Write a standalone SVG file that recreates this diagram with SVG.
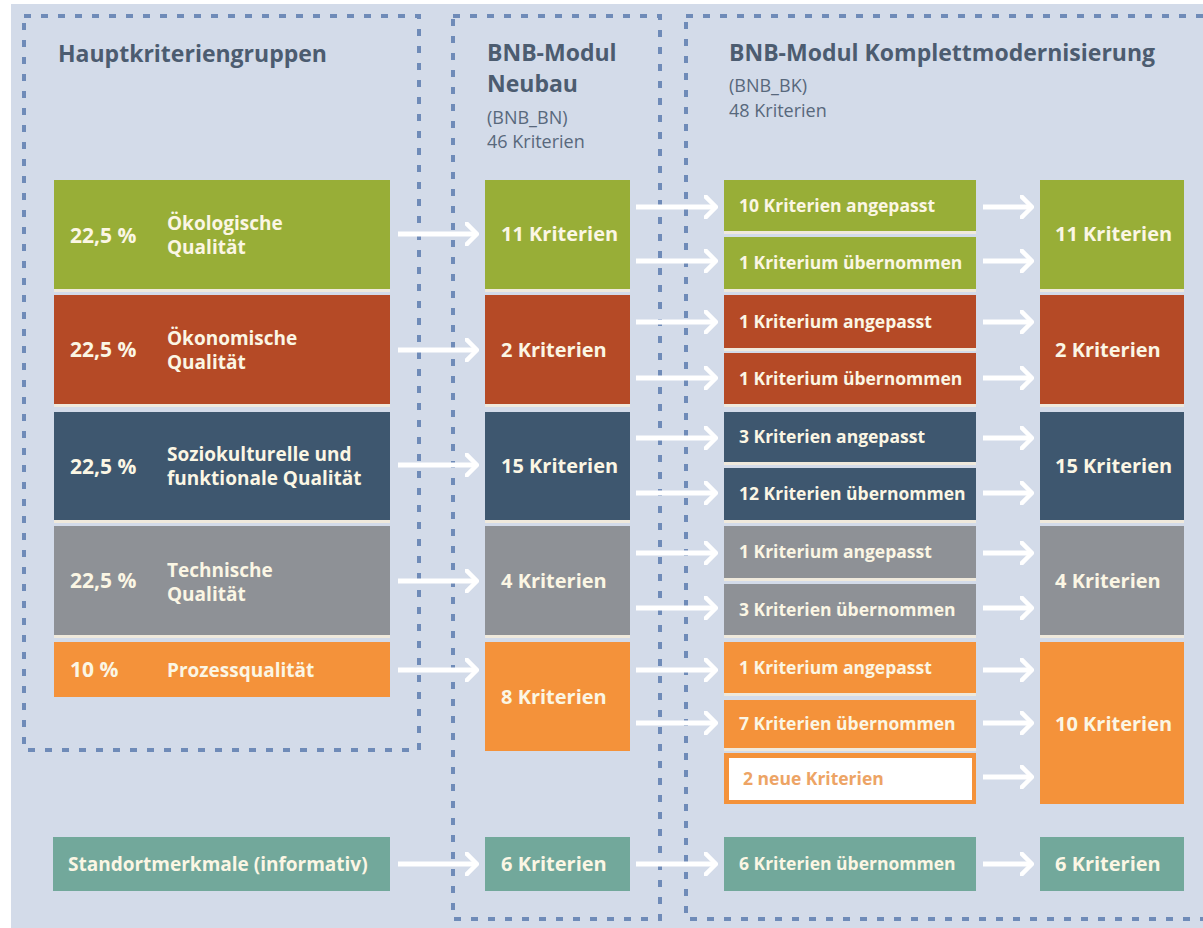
<svg xmlns="http://www.w3.org/2000/svg" width="1203" height="928" viewBox="0 0 1203 928">
<defs>
<style>
.bg{fill:#d3dbe9}
.dash{fill:none;stroke:#6f8bb8;stroke-width:4;stroke-dasharray:7 10}
.g{fill:#98ae37}.r{fill:#b54a26}.b{fill:#3e576f}.y{fill:#8e9196}.o{fill:#f4923a}.t{fill:#72a89b}
.cr{fill:#efe9dc}
.h1{font-family:"Open Sans","Liberation Sans",sans-serif;font-weight:700;font-size:23px;fill:#4c5c70}
.h2{font-family:"Open Sans","Liberation Sans",sans-serif;font-weight:400;font-size:18px;fill:#58687c}
.pc{font-family:"Open Sans","Liberation Sans",sans-serif;font-weight:700;font-size:21px;fill:#fbf6e4}
.lb{font-family:"Open Sans","Liberation Sans",sans-serif;font-weight:700;font-size:19px;fill:#fbf6e4}
.mk{font-family:"Open Sans","Liberation Sans",sans-serif;font-weight:700;font-size:20px;fill:#fbf6e4}
.sk{font-family:"Open Sans","Liberation Sans",sans-serif;font-weight:700;font-size:17.5px;fill:#fbf6e4}
.nk{font-family:"Open Sans","Liberation Sans",sans-serif;font-weight:700;font-size:17.5px;fill:#eda465}
.ar{fill:none;stroke:#ffffff;stroke-width:5}
</style>
<marker id="chev" viewBox="0 0 14 24" refX="12" refY="12" markerWidth="14" markerHeight="24" markerUnits="userSpaceOnUse" orient="auto">
<path d="M1.5,1.5 L12,12 L1.5,22.5" fill="none" stroke="#ffffff" stroke-width="4.5" stroke-linecap="round" stroke-linejoin="round"/>
</marker>
</defs>
<rect class="bg" x="11" y="4" width="1192" height="924"/>

<g id="frames">
<rect class="dash" x="24" y="16" width="395" height="734"/>
<rect class="dash" x="453" y="16" width="207" height="903"/>
<rect class="dash" x="686" y="16" width="540" height="903"/>
</g>

<g id="headers">
<text class="h1" x="58" y="62">Hauptkriteriengruppen</text>
<text class="h1" x="487" y="61">BNB-Modul</text>
<text class="h1" x="487" y="92">Neubau</text>
<text class="h2" x="487" y="124">(BNB_BN)</text>
<text class="h2" x="487" y="148">46 Kriterien</text>
<text class="h1" x="729" y="61">BNB-Modul Komplettmodernisierung</text>
<text class="h2" x="729" y="92">(BNB_BK)</text>
<text class="h2" x="729" y="117">48 Kriterien</text>
</g>

<g id="separators">
<rect class="cr" x="54" y="289" width="336" height="3"/>
<rect class="cr" x="54" y="404" width="336" height="3"/>
<rect class="cr" x="54" y="520" width="336" height="3"/>
<rect class="cr" x="54" y="635" width="336" height="3"/>
<rect class="cr" x="485" y="289" width="145" height="3"/>
<rect class="cr" x="485" y="404" width="145" height="3"/>
<rect class="cr" x="485" y="520" width="145" height="3"/>
<rect class="cr" x="485" y="635" width="145" height="3"/>
<rect class="cr" x="724" y="231" width="252" height="3"/>
<rect class="cr" x="724" y="289" width="252" height="3"/>
<rect class="cr" x="724" y="348" width="252" height="3"/>
<rect class="cr" x="724" y="404" width="252" height="3"/>
<rect class="cr" x="724" y="462" width="252" height="3"/>
<rect class="cr" x="724" y="520" width="252" height="3"/>
<rect class="cr" x="724" y="578" width="252" height="3"/>
<rect class="cr" x="724" y="635" width="252" height="3"/>
<rect class="cr" x="724" y="693" width="252" height="3"/>
<rect class="cr" x="724" y="748" width="252" height="3"/>
<rect class="cr" x="1040" y="289" width="144" height="3"/>
<rect class="cr" x="1040" y="404" width="144" height="3"/>
<rect class="cr" x="1040" y="520" width="144" height="3"/>
<rect class="cr" x="1040" y="635" width="144" height="3"/>
</g>

<g id="left-oekologisch"><rect class="g" x="54" y="180" width="336" height="109"/><text class="pc" x="70" y="243">22,5 %</text><text class="lb" x="167" y="230">Ökologische</text><text class="lb" x="167" y="254">Qualität</text></g>
<g id="left-oekonomisch"><rect class="r" x="54" y="295" width="336" height="109"/><text class="pc" x="70" y="357">22,5 %</text><text class="lb" x="167" y="345">Ökonomische</text><text class="lb" x="167" y="369">Qualität</text></g>
<g id="left-sozio"><rect class="b" x="54" y="412" width="336" height="108"/><text class="pc" x="70" y="474">22,5 %</text><text class="lb" x="167" y="461">Soziokulturelle und</text><text class="lb" x="167" y="485">funktionale Qualität</text></g>
<g id="left-technisch"><rect class="y" x="54" y="526" width="336" height="109"/><text class="pc" x="70" y="588">22,5 %</text><text class="lb" x="167" y="577">Technische</text><text class="lb" x="167" y="601">Qualität</text></g>
<g id="left-prozess"><rect class="o" x="54" y="642" width="336" height="55"/><text class="pc" x="70" y="677">10 %</text><text class="lb" x="167" y="677">Prozessqualität</text></g>
<g id="left-standort"><rect class="t" x="53" y="837" width="337" height="54"/><text class="lb" x="68" y="871">Standortmerkmale (informativ)</text></g>

<g id="mid-green"><rect class="g" x="485" y="180" width="145" height="109"/><text class="mk" x="501" y="241">11 Kriterien</text></g>
<g id="mid-red"><rect class="r" x="485" y="295" width="145" height="109"/><text class="mk" x="501" y="357">2 Kriterien</text></g>
<g id="mid-blue"><rect class="b" x="485" y="412" width="145" height="108"/><text class="mk" x="501" y="473">15 Kriterien</text></g>
<g id="mid-gray"><rect class="y" x="485" y="526" width="145" height="109"/><text class="mk" x="501" y="588">4 Kriterien</text></g>
<g id="mid-orange"><rect class="o" x="485" y="642" width="145" height="109"/><text class="mk" x="501" y="704">8 Kriterien</text></g>
<g id="mid-teal"><rect class="t" x="485" y="837" width="145" height="54"/><text class="mk" x="501" y="871">6 Kriterien</text></g>

<g id="sub-g1"><rect class="g" x="724" y="180" width="252" height="51"/><text class="sk" x="739" y="212">10 Kriterien angepasst</text></g>
<g id="sub-g2"><rect class="g" x="724" y="237" width="252" height="52"/><text class="sk" x="739" y="269">1 Kriterium übernommen</text></g>
<g id="sub-r1"><rect class="r" x="724" y="295" width="252" height="53"/><text class="sk" x="739" y="328">1 Kriterium angepasst</text></g>
<g id="sub-r2"><rect class="r" x="724" y="353" width="252" height="51"/><text class="sk" x="739" y="385">1 Kriterium übernommen</text></g>
<g id="sub-b1"><rect class="b" x="724" y="412" width="252" height="50"/><text class="sk" x="739" y="443">3 Kriterien angepasst</text></g>
<g id="sub-b2"><rect class="b" x="724" y="468" width="252" height="52"/><text class="sk" x="739" y="500">12 Kriterien übernommen</text></g>
<g id="sub-y1"><rect class="y" x="724" y="526" width="252" height="52"/><text class="sk" x="739" y="558">1 Kriterium angepasst</text></g>
<g id="sub-y2"><rect class="y" x="724" y="584" width="252" height="51"/><text class="sk" x="739" y="616">3 Kriterien übernommen</text></g>
<g id="sub-o1"><rect class="o" x="724" y="642" width="252" height="51"/><text class="sk" x="739" y="674">1 Kriterium angepasst</text></g>
<g id="sub-o2"><rect class="o" x="724" y="700" width="252" height="48"/><text class="sk" x="739" y="730">7 Kriterien übernommen</text></g>
<g id="sub-new"><rect class="o" x="724" y="753" width="252" height="51"/><rect x="729" y="758" width="243" height="42" fill="#ffffff"/><text class="nk" x="743" y="785">2 neue Kriterien</text></g>
<g id="sub-t"><rect class="t" x="724" y="837" width="252" height="54"/><text class="sk" x="739" y="870">6 Kriterien übernommen</text></g>

<g id="res-green"><rect class="g" x="1040" y="180" width="144" height="109"/><text class="mk" x="1055" y="241">11 Kriterien</text></g>
<g id="res-red"><rect class="r" x="1040" y="295" width="144" height="109"/><text class="mk" x="1055" y="357">2 Kriterien</text></g>
<g id="res-blue"><rect class="b" x="1040" y="412" width="144" height="108"/><text class="mk" x="1055" y="473">15 Kriterien</text></g>
<g id="res-gray"><rect class="y" x="1040" y="526" width="144" height="109"/><text class="mk" x="1055" y="588">4 Kriterien</text></g>
<g id="res-orange"><rect class="o" x="1040" y="642" width="144" height="162"/><text class="mk" x="1055" y="731">10 Kriterien</text></g>
<g id="res-teal"><rect class="t" x="1040" y="837" width="144" height="54"/><text class="mk" x="1055" y="871">6 Kriterien</text></g>

<g id="connectors">
<path class="ar" marker-end="url(#chev)" d="M398,234 H477"/>
<path class="ar" marker-end="url(#chev)" d="M398,350 H477"/>
<path class="ar" marker-end="url(#chev)" d="M398,465 H477"/>
<path class="ar" marker-end="url(#chev)" d="M398,581 H477"/>
<path class="ar" marker-end="url(#chev)" d="M398,670 H477"/>
<path class="ar" marker-end="url(#chev)" d="M398,864 H477"/>

<path class="ar" marker-end="url(#chev)" d="M636,207 H716"/>
<path class="ar" marker-end="url(#chev)" d="M636,261 H716"/>
<path class="ar" marker-end="url(#chev)" d="M636,322 H716"/>
<path class="ar" marker-end="url(#chev)" d="M636,378 H716"/>
<path class="ar" marker-end="url(#chev)" d="M636,438 H716"/>
<path class="ar" marker-end="url(#chev)" d="M636,493 H716"/>
<path class="ar" marker-end="url(#chev)" d="M636,553 H716"/>
<path class="ar" marker-end="url(#chev)" d="M636,608 H716"/>
<path class="ar" marker-end="url(#chev)" d="M636,670 H716"/>
<path class="ar" marker-end="url(#chev)" d="M636,723 H716"/>
<path class="ar" marker-end="url(#chev)" d="M636,864 H716"/>

<path class="ar" marker-end="url(#chev)" d="M983,207 H1032"/>
<path class="ar" marker-end="url(#chev)" d="M983,261 H1032"/>
<path class="ar" marker-end="url(#chev)" d="M983,322 H1032"/>
<path class="ar" marker-end="url(#chev)" d="M983,378 H1032"/>
<path class="ar" marker-end="url(#chev)" d="M983,438 H1032"/>
<path class="ar" marker-end="url(#chev)" d="M983,493 H1032"/>
<path class="ar" marker-end="url(#chev)" d="M983,553 H1032"/>
<path class="ar" marker-end="url(#chev)" d="M983,608 H1032"/>
<path class="ar" marker-end="url(#chev)" d="M983,670 H1032"/>
<path class="ar" marker-end="url(#chev)" d="M983,723 H1032"/>
<path class="ar" marker-end="url(#chev)" d="M983,777 H1032"/>
<path class="ar" marker-end="url(#chev)" d="M983,864 H1032"/>
</g>
</svg>
